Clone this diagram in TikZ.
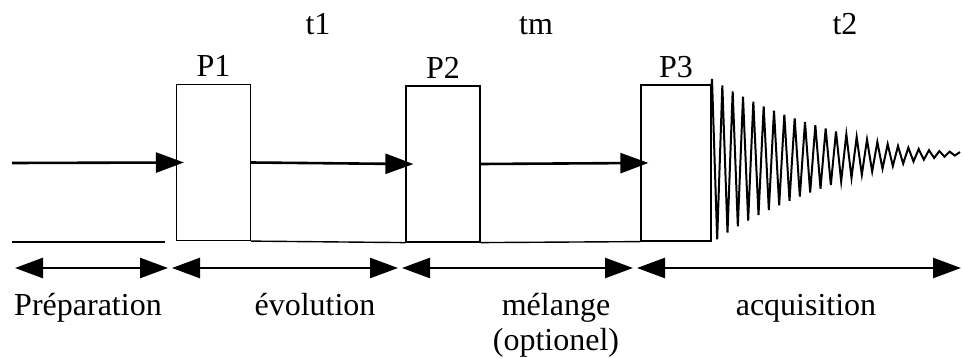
\documentclass[tikz,border=0pt]{standalone}
\usepackage{fontspec}
\setmainfont{Liberation Serif}
\usepackage{tikz}
\usetikzlibrary{positioning,arrows.meta}
\tikzstyle{pulse} = [draw, rectangle, line width=0.6pt, inner sep=0pt, minimum width=37pt, minimum height=78pt]
\tikzstyle{coord} = [coordinate]
\tikzstyle{flow} = [->, line width=1.3pt, shorten >=-4pt]
\tikzstyle{span} = [<->, line width=1.3pt, shorten >=1pt, shorten <=1pt]
\tikzstyle{base} = [line width=0.7pt]
\tikzstyle{fid} = [line width=1pt, line join=miter]

\begin{document}
\begin{tikzpicture}[x=0.5pt,y=-0.5pt,>={Triangle[length=14pt,width=10pt]},font=\fontsize{16}{19}\selectfont]
	\useasboundingbox (0,0) rectangle (963,358);
	% pulses
	\node (p1) [pulse] at (213.5,162.5) {};
	\node (p2) [pulse] at (443,164) {};
	\node (p3) [pulse, minimum width=35pt] at (676,163) {};
	\node (lp1) [above=0pt of p1] {P1};
	\node (lp2) [above=0pt of p2] {P2};
	\node (lp3) [above=0pt of p3] {P3};
	\node (t1) [anchor=base] at (318,35) {t1};
	\node (tm) [anchor=base] at (536,35) {tm};
	\node (t2) [anchor=base] at (845,35) {t2};
	\node (in) [coord] at (12,163) {};
	\node (b0) [coord] at (12,242) {};
	\node (b1) [coord] at (165,242) {};

	\draw [flow] (in) -- (p1.west);
	\draw [flow] (p1.east) -- (p2.west);
	\draw [flow] (p2.east) -- (p3.west);
	\draw [base] (b0) -- (b1);
	\draw [base] (p1.south east) -- (p2.south west);
	\draw [base] (p2.south east) -- (p3.south west);
	% signal
	\draw [fid] (p3.north east) -- plot[domain=0:248, samples=49]
		({712+\x}, {161-0.03*\x-82*exp(-\x/120-(\x/210)^4)*cos(\x/5.1667*180)});

	% periods
	\node (m0) [coord] at (13,268) {};
	\node (m1) [coord] at (170,268) {};
	\node (m2) [coord] at (400,268) {};
	\node (m3) [coord] at (635,268) {};
	\node (m4) [coord] at (963,268) {};
	\draw [span] (m0) -- (m1);
	\draw [span] (m1) -- (m2);
	\draw [span] (m2) -- (m3);
	\draw [span] (m3) -- (m4);
	\node (prep) [anchor=base] at (88,315) {Préparation};
	\node (evol) [anchor=base] at (315,315) {évolution};
	\node (mel) [anchor=base] at (556,315) {mélange};
	\node (opt) [anchor=base] at (556,350) {(optionel)};
	\node (acq) [anchor=base] at (806,315) {acquisition};
\end{tikzpicture}
\end{document}
